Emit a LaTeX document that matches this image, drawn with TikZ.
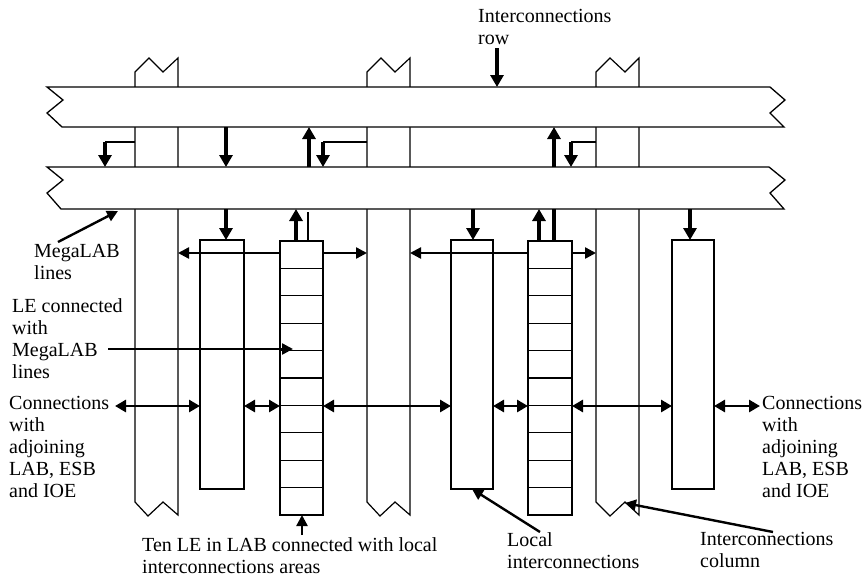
\documentclass[tikz,border=0pt]{standalone}
\usepackage{fontspec}
\setmainfont{Liberation Serif}
\usetikzlibrary{arrows.meta}
\begin{document}
\begin{tikzpicture}[x=1pt,y=-1pt,
  band/.style={draw, line width=1.3pt, fill=white, line join=miter},
  col/.style={draw, line width=1.2pt, fill=white},
  labbox/.style={draw, line width=1.2pt, fill=white, inner sep=0pt, outer sep=0pt},
  arr/.style={line width=2.4pt, -{Triangle[length=11pt,width=11pt]}},
  tharr/.style={line width=3.2pt, -{Triangle[length=12pt,width=13pt]}},
  darr/.style={line width=2.8pt, {Triangle[length=11pt,width=12pt]}-{Triangle[length=11pt,width=12pt]}},
  thinline/.style={line width=1.2pt},
  lbl/.style={font=\fontsize{20}{22}\selectfont, align=left, inner sep=0pt, anchor=north west}]
\useasboundingbox (0,0) rectangle (866,576);
\fill[white] (0,0) rectangle (866,576);

% interconnection columns
\draw[col] (135,502) -- (135,72) -- (149,58) -- (163,72) -- (178,58) -- (178,515) -- (163,502) -- (148,516) -- cycle;
\draw[col] (367,502) -- (367,72) -- (381,58) -- (395,72) -- (410,58) -- (410,515) -- (395,502) -- (380,516) -- cycle;
\draw[col] (596,502) -- (596,72) -- (610,58) -- (625,72) -- (639,58) -- (639,515) -- (625,502) -- (610,516) -- cycle;

% interconnection rows (MegaLAB bands)
\draw[band] (47,87) -- (770,87) -- (785,100) -- (770,113) -- (784,127) -- (62,127) -- (47,113) -- (63,100) -- cycle;
\draw[band] (47,167) -- (769,167) -- (785,180) -- (770,193) -- (784,209) -- (61,209) -- (47,193) -- (63,180) -- cycle;

% LAB boxes
\node[labbox, minimum width=44pt, minimum height=249pt] (A) at (222,364.5) {};
\node[labbox, minimum width=43pt, minimum height=274pt] (B) at (301.5,378) {};
\node[labbox, minimum width=42pt, minimum height=249pt] (C) at (472,364.5) {};
\node[labbox, minimum width=44pt, minimum height=274pt] (D) at (550,378) {};
\node[labbox, minimum width=42pt, minimum height=249pt] (E) at (693,364.5) {};
\foreach \i in {1,...,9}{
  \draw[thinline] (280,{241+\i*27.4}) -- (323,{241+\i*27.4});
  \draw[thinline] (528,{241+\i*27.4}) -- (572,{241+\i*27.4});
}

% guide coordinates
\coordinate (r1t) at (0,87);
\coordinate (r1b) at (0,127);
\coordinate (r2t) at (0,167);
\coordinate (r2b) at (0,209);
\coordinate (c1l) at (135,0);
\coordinate (c1r) at (178,0);
\coordinate (c2l) at (367,0);
\coordinate (c2r) at (410,0);
\coordinate (c3l) at (596,0);

% top arrow
\coordinate (t0) at (497,48);
\draw[tharr] (t0) -- (t0 |- r1t);

% arrows between the two rows
\coordinate (k1) at (105,142);
\draw[thinline] (c1l |- k1) -- (k1);
\draw[tharr] (k1) -- (k1 |- r2t);
\coordinate (k2) at (226,0);
\draw[tharr] (k2 |- r1b) -- (k2 |- r2t);
\coordinate (k3) at (309,0);
\draw[tharr] (k3 |- r2t) -- (k3 |- r1b);
\coordinate (k4) at (323,142);
\draw[thinline] (c2l |- k4) -- (k4);
\draw[tharr] (k4) -- (k4 |- r2t);
\coordinate (k5) at (554,0);
\draw[tharr] (k5 |- r2t) -- (k5 |- r1b);
\coordinate (k6) at (571,142);
\draw[thinline] (c3l |- k6) -- (k6);
\draw[tharr] (k6) -- (k6 |- r2t);

% arrows below the lower row
\draw[tharr] (k2 |- r2b) -- (k2 |- A.north);
\coordinate (k7) at (296,0);
\draw[tharr] (k7 |- B.north) -- (k7 |- r2b);
\coordinate (k8) at (308,212);
\draw[thinline] (k8) -- (k8 |- B.north);
\coordinate (k9) at (473,0);
\draw[tharr] (k9 |- r2b) -- (k9 |- C.north);
\coordinate (k10) at (539,0);
\draw[tharr] (k10 |- D.north) -- (k10 |- r2b);
\draw[line width=3.2pt] (k5 |- D.north) -- (k5 |- r2b);
\coordinate (k11) at (690,0);
\draw[tharr] (k11 |- r2b) -- (k11 |- E.north);

% horizontal arrows to columns
\coordinate (h1) at (0,253);
\draw[arr] (B.west |- h1) -- (c1r |- h1);
\draw[arr] (B.east |- h1) -- (c2l |- h1);
\draw[arr] (D.west |- h1) -- (c2r |- h1);
\draw[arr] (D.east |- h1) -- (c3l |- h1);

% LE connected with MegaLAB lines
\coordinate (h2s) at (108,349);
\coordinate (h2e) at (293,349);
\draw[arr] (h2s) -- (h2e);

% double arrows
\coordinate (h3) at (0,406);
\coordinate (h3s) at (115,406);
\coordinate (h3e) at (760,406);
\draw[darr] (h3s) -- (A.west |- h3);
\draw[darr] (A.east |- h3) -- (B.west |- h3);
\draw[darr] (B.east |- h3) -- (C.west |- h3);
\draw[darr] (C.east |- h3) -- (D.west |- h3);
\draw[darr] (D.east |- h3) -- (E.west |- h3);
\draw[darr] (E.east |- h3) -- (h3e);

% pointer arrows
\coordinate (m1) at (302,535);
\draw[arr] (m1) -- (m1 |- B.south);
\coordinate (m2) at (540,532);
\draw[arr] (m2) -- (C.south);
\coordinate (m3) at (773,532);
\coordinate (m3e) at (625,503);
\draw[arr] (m3) -- (m3e);
\coordinate (m4) at (58,242);
\coordinate (m4e) at (118,211);
\draw[arr] (m4) -- (m4e);

% labels
\node[lbl] (Lrow) at (478,9) {Interconnections\\row};
\node[lbl] (Lmega) at (34,244) {MegaLAB\\lines};
\node[lbl] (Lle) at (12,298) {LE connected\\with\\MegaLAB\\lines};
\node[lbl] (Lconl) at (9,396) {Connections\\with\\adjoining\\LAB, ESB\\and IOE};
\node[lbl] (Lconr) at (762,396) {Connections\\with\\adjoining\\LAB, ESB\\and IOE};
\node[lbl] (Lten) at (142,537) {Ten LE in LAB connected with local\\interconnections areas};
\node[lbl] (Lloc) at (507,532) {Local\\interconnections};
\node[lbl] (Lcol) at (700,532) {Interconnections\\column};
\end{tikzpicture}
\end{document}
